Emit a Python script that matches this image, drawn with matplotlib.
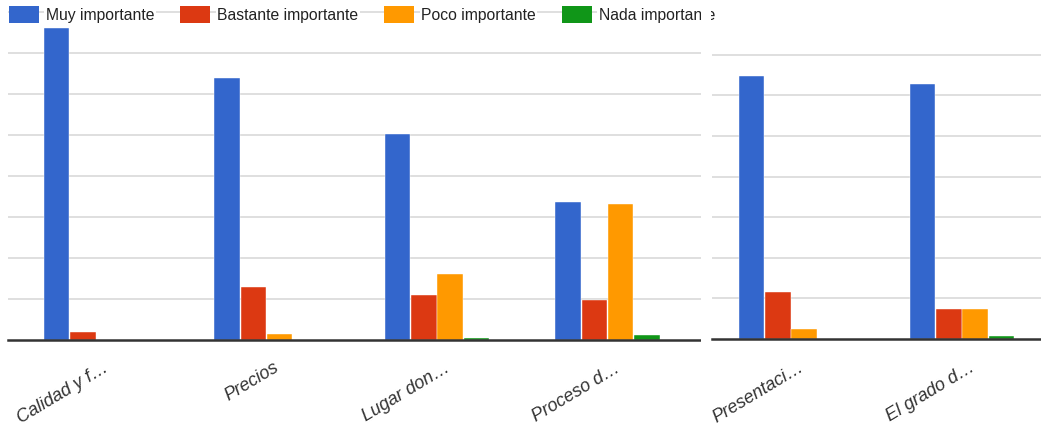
import matplotlib
matplotlib.use("Agg")

import numpy as np
import matplotlib.pyplot as plt
from matplotlib.patches import Rectangle

# ── data (10 units per gridline) ─────────────────────────────────────────────
series = ["Muy importante", "Bastante importante", "Poco importante", "Nada importante"]
colors = ["#3366cc", "#dc3912", "#ff9900", "#109618"]

left_labels = ["Calidad y f…", "Precios", "Lugar don…", "Proceso d…"]
left_muy = [76.1, 63.9, 50.2, 33.7]
left_bastante = [2.0, 12.9, 11.0, 9.8]
left_poco = [0.0, 1.5, 16.1, 33.2]
left_nada = [0.0, 0.0, 0.6, 1.1]

right_labels = ["Presentaci…", "El grado d…"]
right_muy = [64.8, 62.8]
right_bastante = [11.5, 7.4]
right_poco = [2.5, 7.4]
right_nada = [0.0, 0.7]

W, H = 1041, 426
fig = plt.figure(figsize=(W / 100, H / 100), dpi=100)
plt.rcParams["font.family"] = ["Liberation Sans", "DejaVu Sans"]


def panel(x0, x1, base, px_per_grid, first_center, pitch, labels, values, top_grid):
    # axes placed in pixel coords, xlim chosen so categories land where they do
    ax = fig.add_axes([x0 / W, (H - base) / H, (x1 - x0) / W, base / H])
    ax.set_xlim((x0 - first_center) / pitch, (x1 - first_center) / pitch)
    ax.set_ylim(0, base / px_per_grid * 10)
    x = np.arange(len(labels))
    bw = 25.5 / pitch
    step = 26.2 / pitch
    for i, (vals, c) in enumerate(zip(values, colors)):
        ax.bar(x + (i - 1.5) * step, vals, width=bw, color=c, zorder=3,
               edgecolor="white", linewidth=0.3)
    ax.set_yticks(np.arange(10, top_grid + 1, 10))
    ax.yaxis.grid(True, color="#d9d9d9", linewidth=1.2, zorder=0)
    ax.tick_params(axis="y", length=0, labelleft=False)
    ax.tick_params(axis="x", length=0, pad=14)
    ax.set_xticks(x + 0.04)
    ax.set_xticklabels(labels, rotation=31, ha="right", rotation_mode="anchor",
                       fontstyle="italic", fontsize=13, color="#333333")
    for s in ["top", "right", "left"]:
        ax.spines[s].set_visible(False)
    ax.spines["bottom"].set_color("#333333")
    ax.spines["bottom"].set_linewidth(1.8)
    ax.spines["bottom"].set_zorder(4)
    return ax


ax1 = panel(8, 702, 340, 41.0, 96.0, 170.5, left_labels,
            [left_muy, left_bastante, left_poco, left_nada], 80)
ax2 = panel(712, 1041, 339, 40.6, 791.0, 171.0, right_labels,
            [right_muy, right_bastante, right_poco, right_nada], 70)

handles = [Rectangle((0, 0), 1, 1, facecolor=c, edgecolor="none") for c in colors]
leg = fig.legend(handles, series, loc="upper left", ncol=4, frameon=False,
                 bbox_to_anchor=(-2 / W, 1 + 5 / H), fontsize=11.3,
                 handlelength=1.9, handleheight=1.25, handletextpad=0.45,
                 columnspacing=1.65, borderaxespad=0.3)
for t in leg.get_texts():
    t.set_color("#222222")
    t.set_bbox(dict(facecolor="white", edgecolor="none", pad=1))

# the second screenshot sits on top of the first legend's last letter
fig.patches.append(Rectangle((701 / W, 0), 10 / W, 1, transform=fig.transFigure,
                             facecolor="white", edgecolor="none", zorder=10))

fig.savefig("out.png", dpi=100)
